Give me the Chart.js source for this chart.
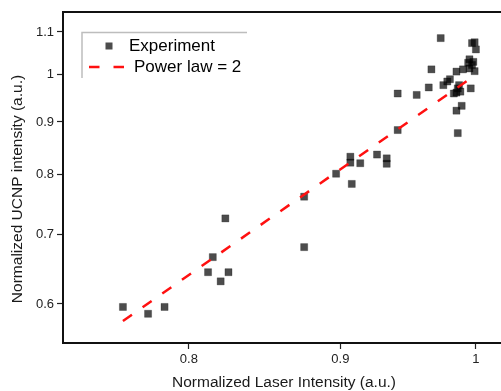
<!DOCTYPE html>
<html>
<head>
<meta charset="utf-8">
<title>UCNP intensity vs laser intensity</title>
<script src="https://cdn.jsdelivr.net/npm/chart.js@4.4.1/dist/chart.umd.min.js"></script>
<style>
  html, body { margin: 0; padding: 0; background: #fff; }
  canvas { display: block; }
</style>
</head>
<body>
<canvas id="power-chart" width="501" height="391"></canvas>
<script>
// measured points (normalized laser intensity, normalized UCNP intensity)
const laserX = [
  0.760, 0.775, 0.785, 0.815, 0.812, 0.825, 0.820, 0.823,
  0.875, 0.875, 0.897, 0.907, 0.907, 0.914, 0.908, 0.926,
  0.933, 0.933, 0.941, 0.941, 0.955, 0.964, 0.973, 0.966,
  0.985, 0.990, 0.999, 0.996, 0.989, 0.985, 0.986, 0.997,
  0.999, 1.000, 0.995, 0.998, 0.994, 0.997, 0.995, 0.978,
  0.980, 0.975, 0.986, 0.985, 0.988, 0.983, 0.987
];
const ucnpY = [
  0.596, 0.587, 0.596, 0.666, 0.644, 0.644, 0.631, 0.726,
  0.762, 0.681, 0.802, 0.833, 0.822, 0.821, 0.784, 0.837,
  0.830, 0.820, 0.884, 0.959, 0.956, 0.972, 1.085, 1.012,
  1.007, 1.012, 1.008, 0.970, 0.933, 0.923, 0.878, 1.073,
  1.075, 1.058, 1.035, 1.029, 1.027, 1.022, 1.014, 0.985,
  0.990, 0.977, 0.970, 0.961, 0.963, 0.959, 0.977
];

// power law reference, slope 2 on log-log axes
const fitX = [0.76, 1.0];
const fitY = [0.5776, 1.0];

const xTicks = [0.8, 0.9, 1];
const yTicks = [0.6, 0.7, 0.8, 0.9, 1, 1.1];

const xTitle = "Normalized Laser Intensity (a.u.)";
const yTitle = "Normalized UCNP intensity (a.u.)";

const FONT = '"Liberation Sans", Arial, sans-serif';
const markerColor = "rgba(0, 0, 0, 0.7)";
const fitColor = "#ff1010";

const scatterPoints = laserX.map((x, i) => ({ x: x, y: ucnpY[i] }));
const fitPoints = fitX.map((x, i) => ({ x: x, y: fitY[i] }));

// open right side, top frame line, axis titles and the boxed legend
const decorations = {
  id: "decorations",
  afterDraw(chart) {
    const ctx = chart.ctx;
    const area = chart.chartArea;
    ctx.save();

    // keep the right side of the frame open
    ctx.fillStyle = "#fff";
    ctx.fillRect(area.right - 3, area.top + 2, 3, area.bottom - area.top - 4);

    ctx.strokeStyle = "#111";
    ctx.lineWidth = 2;
    ctx.beginPath();
    ctx.moveTo(area.left - 1, area.top);
    ctx.lineTo(area.right, area.top);
    ctx.stroke();

    ctx.fillStyle = "#1a1a1a";
    ctx.font = "15.5px " + FONT;
    ctx.textAlign = "center";
    ctx.textBaseline = "middle";
    ctx.fillText(xTitle, 284, 383);
    ctx.save();
    ctx.translate(18, 189);
    ctx.rotate(-Math.PI / 2);
    ctx.fillText(yTitle, 0, 0);
    ctx.restore();

    // legend frame (top and left edges only)
    ctx.strokeStyle = "#bdbdbd";
    ctx.lineWidth = 1.5;
    ctx.beginPath();
    ctx.moveTo(82, 78);
    ctx.lineTo(82, 32.5);
    ctx.lineTo(247, 32.5);
    ctx.stroke();

    const sets = chart.data.datasets;
    ctx.font = "17px " + FONT;
    ctx.textAlign = "left";

    ctx.fillStyle = markerColor;
    ctx.fillRect(105.5, 42.5, 7, 7);
    ctx.fillStyle = "#000";
    ctx.fillText(sets[0].label, 129, 46.5);

    ctx.strokeStyle = fitColor;
    ctx.lineWidth = 2.5;
    ctx.setLineDash([10.5, 14]);
    ctx.beginPath();
    ctx.moveTo(89, 67);
    ctx.lineTo(124.5, 67);
    ctx.stroke();
    ctx.setLineDash([]);
    ctx.fillText(sets[1].label, 134, 67.5);

    ctx.restore();
  }
};

new Chart(document.getElementById("power-chart"), {
  type: "scatter",
  data: {
    datasets: [
      {
        label: "Experiment",
        data: scatterPoints,
        pointStyle: "rect",
        pointRadius: 5,
        pointHoverRadius: 5,
        backgroundColor: markerColor,
        borderColor: "rgba(0, 0, 0, 0.25)",
        borderWidth: 1,
        order: 2
      },
      {
        label: "Power law = 2",
        type: "line",
        data: fitPoints,
        showLine: true,
        pointRadius: 0,
        borderColor: fitColor,
        borderWidth: 2.5,
        borderDash: [11, 13],
        fill: false,
        order: 1
      }
    ]
  },
  options: {
    responsive: false,
    animation: false,
    devicePixelRatio: 1,
    layout: {
      autoPadding: false,
      padding: { top: 12, right: 0, left: 0, bottom: 0 }
    },
    plugins: {
      legend: { display: false },
      tooltip: { enabled: false }
    },
    scales: {
      x: {
        type: "logarithmic",
        position: "bottom",
        min: 0.7254,
        max: 1.0197,
        afterFit: (scale) => { scale.height = 48; },
        afterBuildTicks: (scale) => { scale.ticks = xTicks.map((v) => ({ value: v })); },
        grid: { drawOnChartArea: false, tickLength: 6, tickWidth: 1.2, tickColor: "#222" },
        border: { display: true, width: 2, color: "#111" },
        ticks: {
          autoSkip: false,
          maxRotation: 0,
          padding: 3,
          color: "#222",
          font: { family: FONT, size: 13 },
          callback: (v) => String(v)
        }
      },
      y: {
        type: "logarithmic",
        position: "left",
        min: 0.5504,
        max: 1.15,
        afterFit: (scale) => { scale.width = 63; },
        afterBuildTicks: (scale) => { scale.ticks = yTicks.map((v) => ({ value: v })); },
        grid: { drawOnChartArea: false, tickLength: 6, tickWidth: 1.2, tickColor: "#222" },
        border: { display: true, width: 2, color: "#111" },
        ticks: {
          autoSkip: false,
          padding: 3,
          color: "#222",
          font: { family: FONT, size: 13 },
          callback: (v) => String(v)
        }
      }
    }
  },
  plugins: [decorations]
});
</script>
</body>
</html>
